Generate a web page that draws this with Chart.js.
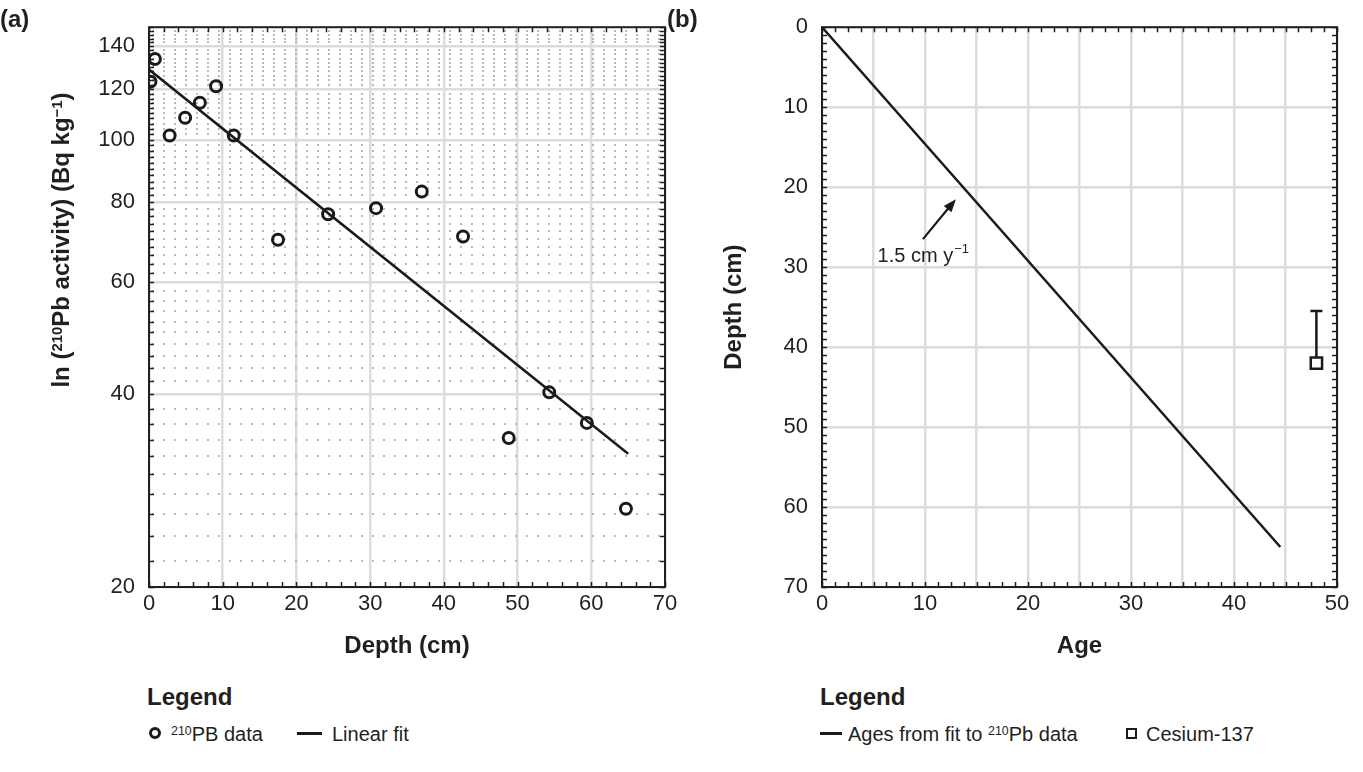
<!DOCTYPE html>
<html>
<head>
<meta charset="utf-8">
<script src="https://cdn.jsdelivr.net/npm/chart.js@4.4.1/dist/chart.umd.min.js"></script>
<style>
body { margin:0; background:#fff; width:1363px; height:772px; position:relative; overflow:hidden;
       font-family:"Liberation Sans", Arial, sans-serif; color:#231f20; }
.abs { position:absolute; }
.panel { font-weight:bold; font-size:24px; line-height:1; }
.ytitle { font-weight:bold; font-size:24px; line-height:24px; width:340px; text-align:center;
          transform:rotate(-90deg); white-space:nowrap; }
.legtitle { font-weight:bold; font-size:24px; line-height:1; }
.legtext { font-size:20px; line-height:1; white-space:nowrap; }
sup { font-size:0.62em; line-height:0; vertical-align:0.5em; }
.mk-circle { width:12px; height:12px; box-sizing:border-box; border:3px solid #1a1a1a; border-radius:50%; }
.mk-square { width:11px; height:11px; box-sizing:border-box; border:2.5px solid #1a1a1a; }
.mk-line { width:25px; height:2.5px; background:#1a1a1a; }
</style>
</head>
<body>
<div class="abs" style="left:0;top:0"><canvas id="chartA" width="690" height="680"></canvas></div>
<div class="abs" style="left:690px;top:0"><canvas id="chartB" width="673" height="680"></canvas></div>

<div class="abs panel" style="left:0;top:7px">(a)</div>
<div class="abs panel" style="left:667px;top:7px">(b)</div>
<div class="abs ytitle" style="left:-109px;top:228px">ln (<sup>210</sup>Pb activity) (Bq kg<sup>−1</sup>)</div>

<div class="abs legtitle" style="left:147px;top:685px">Legend</div>
<div class="abs mk-circle" style="left:149px;top:727px"></div>
<div class="abs legtext" style="left:171px;top:724px"><sup>210</sup>PB data</div>
<div class="abs mk-line" style="left:297px;top:732px"></div>
<div class="abs legtext" style="left:332px;top:724px">Linear fit</div>

<div class="abs legtitle" style="left:820px;top:685px">Legend</div>
<div class="abs mk-line" style="left:820px;top:732px;width:22px"></div>
<div class="abs legtext" style="left:848px;top:724px">Ages from fit to <sup>210</sup>Pb data</div>
<div class="abs mk-square" style="left:1126px;top:728px"></div>
<div class="abs legtext" style="left:1146px;top:724px">Cesium-137</div>

<script>
// (a) 210Pb activity vs depth
var depthA = [0.2, 0.8, 2.8, 4.9, 6.9, 9.1, 11.5, 17.5, 24.3, 30.8, 37.0, 42.6, 48.8, 54.3, 59.4, 64.7];
var activityA = [123.3, 133.8, 101.6, 108.3, 114.3, 121.3, 101.6, 69.8, 76.5, 78.2, 83.0, 70.6, 34.2, 40.3, 36.1, 26.5];
var fitDepth = [0, 65];
var fitActivity = [128.8, 32.3];
var yLabelsA = [20, 40, 60, 80, 100, 120, 140];

// (b) age-depth model
var ageFit = [0, 44.5];
var depthFit = [0, 65];
var csAge = [48];
var csDepth = [42];
var csErrTop = [35.5];

var ink = '#231f20';
var gridMajor = '#dcdcdc';
var gridMinor = '#b9b9b9';
var tickFont = { family: '"Liberation Sans", Arial, sans-serif', size: 22 };
var titleFont = { family: '"Liberation Sans", Arial, sans-serif', size: 24, weight: 'bold' };

function steps(from, to, step) {
    var out = [];
    for (var v = from; v <= to + 1e-9; v += step) out.push(+v.toFixed(4));
    return out;
}
function pts(xs, ys) {
    return xs.map(function (x, i) { return { x: x, y: ys[i] }; });
}

var minorA = steps(20, 148, 2);

// frame with inward ticks on all four sides
var framePlugin = {
    id: 'frame',
    beforeDatasetsDraw: function (chart, args, opts) {
        var ctx = chart.ctx, a = chart.chartArea, sx = chart.scales.x, sy = chart.scales.y;
        var len = 5;
        ctx.save();
        ctx.strokeStyle = ink;
        ctx.lineWidth = 1.5;
        ctx.beginPath();
        opts.xTicks.forEach(function (v) {
            var px = Math.round(sx.getPixelForValue(v)) + 0.5;
            ctx.moveTo(px, a.bottom); ctx.lineTo(px, a.bottom - len);
            ctx.moveTo(px, a.top); ctx.lineTo(px, a.top + len);
        });
        opts.yTicks.forEach(function (v) {
            var py = Math.round(sy.getPixelForValue(v)) + 0.5;
            ctx.moveTo(a.left, py); ctx.lineTo(a.left + len, py);
            ctx.moveTo(a.right, py); ctx.lineTo(a.right - len, py);
        });
        ctx.stroke();
        ctx.lineWidth = 2;
        ctx.strokeRect(a.left, a.top, a.right - a.left, a.bottom - a.top);
        ctx.restore();
    }
};

// error bar (upward only) for the cesium marker
var errorBarPlugin = {
    id: 'errbar',
    beforeDatasetsDraw: function (chart, args, opts) {
        if (!opts.on) return;
        var ctx = chart.ctx, sx = chart.scales.x, sy = chart.scales.y;
        ctx.save();
        ctx.strokeStyle = '#1a1a1a';
        ctx.lineWidth = 2.5;
        csAge.forEach(function (x, i) {
            var px = sx.getPixelForValue(x);
            var p0 = sy.getPixelForValue(csDepth[i]);
            var p1 = sy.getPixelForValue(csErrTop[i]);
            ctx.beginPath();
            ctx.moveTo(px, p0); ctx.lineTo(px, p1);
            ctx.moveTo(px - 6, p1); ctx.lineTo(px + 6, p1);
            ctx.stroke();
        });
        ctx.restore();
    }
};

// rate label with arrow
var rateNotePlugin = {
    id: 'rateNote',
    afterDatasetsDraw: function (chart, args, opts) {
        if (!opts.on) return;
        var ctx = chart.ctx, sx = chart.scales.x, sy = chart.scales.y;
        var x0 = sx.getPixelForValue(opts.from[0]), y0 = sy.getPixelForValue(opts.from[1]);
        var x1 = sx.getPixelForValue(opts.to[0]), y1 = sy.getPixelForValue(opts.to[1]);
        var ang = Math.atan2(y1 - y0, x1 - x0);
        ctx.save();
        ctx.strokeStyle = '#1a1a1a';
        ctx.fillStyle = '#1a1a1a';
        ctx.lineWidth = 2.2;
        ctx.beginPath();
        ctx.moveTo(x0, y0);
        ctx.lineTo(x1 - 8 * Math.cos(ang), y1 - 8 * Math.sin(ang));
        ctx.stroke();
        ctx.beginPath();
        ctx.moveTo(x1, y1);
        ctx.lineTo(x1 - 13 * Math.cos(ang) + 5 * Math.sin(ang), y1 - 13 * Math.sin(ang) - 5 * Math.cos(ang));
        ctx.lineTo(x1 - 13 * Math.cos(ang) - 5 * Math.sin(ang), y1 - 13 * Math.sin(ang) + 5 * Math.cos(ang));
        ctx.closePath();
        ctx.fill();
        var tx = sx.getPixelForValue(opts.text[0]), ty = sy.getPixelForValue(opts.text[1]);
        ctx.fillStyle = ink;
        ctx.textBaseline = 'middle';
        ctx.font = '20px "Liberation Sans", Arial, sans-serif';
        ctx.fillText('1.5 cm y', tx, ty);
        var w = ctx.measureText('1.5 cm y').width;
        ctx.font = '13px "Liberation Sans", Arial, sans-serif';
        ctx.fillText('\u22121', tx + w + 1, ty - 7);
        ctx.restore();
    }
};

var chartA = new Chart(document.getElementById('chartA'), {
    type: 'scatter',
    data: {
        datasets: [{
            label: '210PB data',
            data: pts(depthA, activityA),
            pointStyle: 'circle',
            pointRadius: 5.5,
            pointBorderWidth: 3,
            pointBorderColor: '#1a1a1a',
            pointBackgroundColor: 'rgba(255,255,255,0)',
            showLine: false
        }, {
            label: 'Linear fit',
            data: pts(fitDepth, fitActivity),
            showLine: true,
            borderColor: '#1a1a1a',
            borderWidth: 2.5,
            pointRadius: 0
        }]
    },
    options: {
        responsive: false,
        animation: false,
        devicePixelRatio: 1,
        layout: { padding: { top: 24, right: 25, left: 0, bottom: 0 } },
        plugins: {
            legend: { display: false },
            tooltip: { enabled: false },
            frame: { xTicks: steps(0, 70, 2), yTicks: steps(20, 150, 2) }
        },
        scales: {
            x: {
                type: 'linear', min: 0, max: 70,
                ticks: { stepSize: 10, color: ink, font: tickFont, padding: 4, maxRotation: 0 },
                grid: { color: gridMajor, lineWidth: 2.5, drawTicks: false },
                border: { display: false },
                title: { display: true, text: 'Depth (cm)', color: ink, font: titleFont, padding: { top: 0, bottom: 19 } },
                afterFit: function (s) { s.height = 93; }
            },
            y: {
                type: 'logarithmic', min: 20, max: 150,
                afterBuildTicks: function (s) {
                    s.ticks = minorA.map(function (v) { return { value: v }; });
                },
                ticks: {
                    autoSkip: false, color: ink, font: tickFont, padding: 14,
                    callback: function (v) { return yLabelsA.indexOf(v) >= 0 ? String(v) : ''; }
                },
                grid: {
                    drawTicks: false,
                    color: function (c) { return c.tick && yLabelsA.indexOf(c.tick.value) >= 0 ? gridMajor : gridMinor; },
                    lineWidth: function (c) { return c.tick && yLabelsA.indexOf(c.tick.value) >= 0 ? 2.5 : 2; }
                },
                border: {
                    display: false,
                    dash: function (c) { return c.tick && yLabelsA.indexOf(c.tick.value) < 0 ? [2, 9] : []; },
                    dashOffset: 8
                },
                afterFit: function (s) { s.width = 149; }
            }
        }
    },
    plugins: [framePlugin]
});

var chartB = new Chart(document.getElementById('chartB'), {
    type: 'scatter',
    data: {
        datasets: [{
            label: 'Ages from fit to 210Pb data',
            data: pts(ageFit, depthFit),
            showLine: true,
            borderColor: '#1a1a1a',
            borderWidth: 2.5,
            pointRadius: 0
        }, {
            label: 'Cesium-137',
            data: pts(csAge, csDepth),
            pointStyle: 'rect',
            pointRadius: 8,
            pointBorderWidth: 2.5,
            pointBorderColor: '#1a1a1a',
            pointBackgroundColor: '#fff',
            showLine: false
        }]
    },
    options: {
        responsive: false,
        animation: false,
        devicePixelRatio: 1,
        layout: { padding: { top: 24, right: 26, left: 0, bottom: 0 } },
        plugins: {
            legend: { display: false },
            tooltip: { enabled: false },
            frame: { xTicks: steps(0, 50, 1.25), yTicks: steps(0, 70, 1) },
            errbar: { on: true },
            rateNote: { on: true, from: [9.8, 26.5], to: [13.0, 21.5], text: [5.4, 28.7] }
        },
        scales: {
            x: {
                type: 'linear', min: 0, max: 50,
                ticks: {
                    stepSize: 5, autoSkip: false, color: ink, font: tickFont, padding: 4, maxRotation: 0,
                    callback: function (v) { return v % 10 === 0 ? String(v) : ''; }
                },
                grid: { color: gridMajor, lineWidth: 2.5, drawTicks: false },
                border: { display: false },
                title: { display: true, text: 'Age', color: ink, font: titleFont, padding: { top: 0, bottom: 19 } },
                afterFit: function (s) { s.height = 93; }
            },
            y: {
                type: 'linear', min: 0, max: 70, reverse: true,
                ticks: { stepSize: 10, color: ink, font: tickFont, padding: 14 },
                grid: { color: gridMajor, lineWidth: 2.5, drawTicks: false },
                border: { display: false },
                title: { display: true, text: 'Depth (cm)', color: ink, font: titleFont, padding: { top: 30, bottom: 0 } },
                afterFit: function (s) { s.width = 132; }
            }
        }
    },
    plugins: [framePlugin, errorBarPlugin, rateNotePlugin]
});
</script>
</body>
</html>
